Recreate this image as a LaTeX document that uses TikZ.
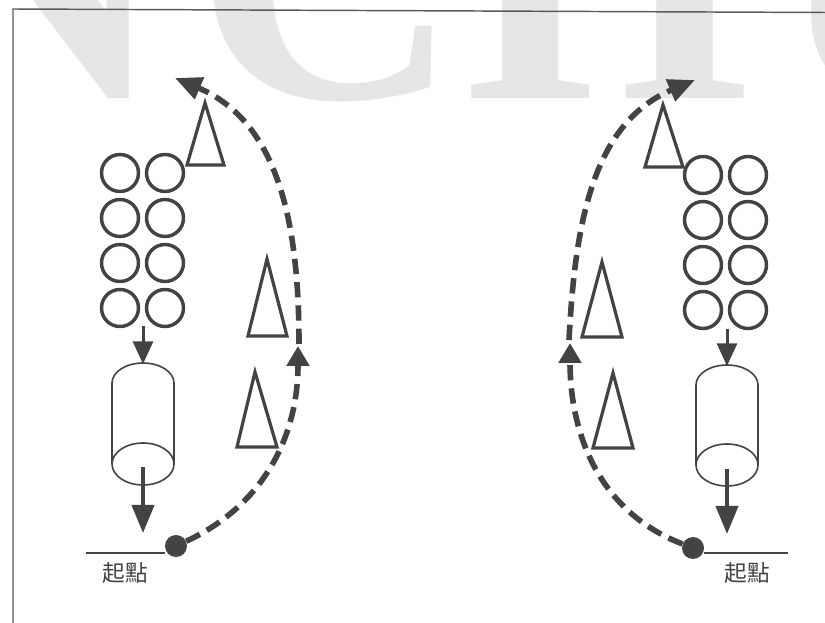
\documentclass[tikz,border=0pt]{standalone}
\usepackage{fontspec}
\setmainfont{Liberation Serif}
\newfontfamily\cjkfont{Noto Sans CJK TC}
\usetikzlibrary{arrows.meta}
\definecolor{ink}{HTML}{434343}
\definecolor{wm}{HTML}{E6E6E6}
\definecolor{framec}{HTML}{5A5A5A}
\begin{document}
\begin{tikzpicture}[x=0.75pt,y=-0.75pt,
  cone/.style={draw=ink, line width=2.4pt, line join=miter},
  ring/.style={circle, draw=ink, line width=2.6pt, minimum size=27.75pt, inner sep=0pt},
  startdot/.style={circle, fill=ink, minimum size=16.5pt, inner sep=0pt},
  route/.style={draw=ink, line width=4.2pt, dash pattern=on 11.5pt off 6pt},
  endtip/.style={-{Triangle[length=20pt,width=17pt]}},
  midtip/.style={-{Triangle[length=15pt,width=16.5pt]}},
  can/.style={draw=ink, line width=1.2pt},
  feed/.style={draw=ink, line width=2.25pt, -{Triangle[length=17pt,width=15pt]}},
  drop/.style={draw=ink, line width=3pt, -{Triangle[length=21pt,width=16.5pt]}},
  baseline/.style={draw=ink, line width=1.3pt},
  lbl/.style={font=\cjkfont\fontsize{17pt}{17pt}\selectfont, text=ink, inner sep=0pt},
  wmark/.style={inner sep=0pt, anchor=base west, text=wm, font=\bfseries\fontsize{274.5pt}{274.5pt}\selectfont}]
\useasboundingbox (0,0) rectangle (825,623);
\clip (0,0) rectangle (825,623);
\fill[white] (0,0) rectangle (825,623);
% watermark
\node[wmark] (wN) at (-100,99) {N};
\node[wmark] (wC) at (195,99) {C};
\node[wmark] (wH) at (465,99) {H};
\node[wmark] (wU) at (775,99) {U};
% frame
\draw[framec, line width=1.1pt] (825,12.5) -- (13,9) -- (13,623);

% ---------- left group ----------
\foreach \r/\y in {1/173,2/218,3/263,4/308}{
  \node[ring] (lA\r) at (120,\y) {};
  \node[ring] (lB\r) at (165,\y) {};
}
\draw[cone] (205,103) -- (187,165) -- (224,165) -- cycle;
\draw[cone] (267,259) -- (248,336) -- (287,336) -- cycle;
\draw[cone] (255,372) -- (237,447) -- (277,447) -- cycle;
% cylinder
\draw[can] (112,464) -- (112,383) arc[start angle=180, end angle=0, x radius=23.25pt, y radius=15pt] -- (174,464);
\draw[can] (143,464) ellipse[x radius=23.25pt, y radius=15.75pt];
\coordinate (lf1) at (143,326);
\coordinate (lf2) at (143,364);
\coordinate (ld1) at (143,467);
\coordinate (ld2) at (143,533);
\draw[feed] (lf1) -- (lf2);
\draw[drop] (ld1) -- (ld2);
% start
\node[startdot] (dotL) at (176,546) {};
\coordinate (lsL) at (86,553);
\draw[baseline] (lsL) -- (dotL.west |- lsL);
\node[lbl] (lblL) at (125,573) {起點};
% route
\coordinate (midL) at (298,346);
\coordinate (resL) at (299,344);
\coordinate (tipL) at (175,78);
\draw[route, midtip] (dotL) to[out=25, in=270] (midL);
\draw[route, endtip] (resL) to[out=90, in=337] (tipL);

% ---------- right group ----------
\foreach \r/\y in {1/175,2/220,3/265,4/310}{
  \node[ring] (rA\r) at (703,\y) {};
  \node[ring] (rB\r) at (748,\y) {};
}
\draw[cone] (663,105) -- (645,167) -- (683,167) -- cycle;
\draw[cone] (602,262) -- (582,337) -- (622,337) -- cycle;
\draw[cone] (613,373) -- (593,448) -- (633,448) -- cycle;
% cylinder
\draw[can] (696,465) -- (696,385) arc[start angle=180, end angle=0, x radius=23.25pt, y radius=15pt] -- (758,465);
\draw[can] (727,465) ellipse[x radius=23.25pt, y radius=15.75pt];
\coordinate (rf1) at (727,329);
\coordinate (rf2) at (727,366);
\coordinate (rd1) at (727,469);
\coordinate (rd2) at (727,534);
\draw[feed] (rf1) -- (rf2);
\draw[drop] (rd1) -- (rd2);
% start
\node[startdot] (dotR) at (693,548) {};
\coordinate (lsR) at (788,553);
\draw[baseline] (lsR) -- (dotR.east |- lsR);
\node[lbl] (lblR) at (747,573) {起點};
% route
\coordinate (midR) at (570,343);
\coordinate (resR) at (569,340);
\coordinate (tipR) at (695,80);
\draw[route, midtip] (dotR) to[out=159, in=270] (midR);
\draw[route, endtip] (resR) to[out=87, in=203] (tipR);
\end{tikzpicture}
\end{document}
